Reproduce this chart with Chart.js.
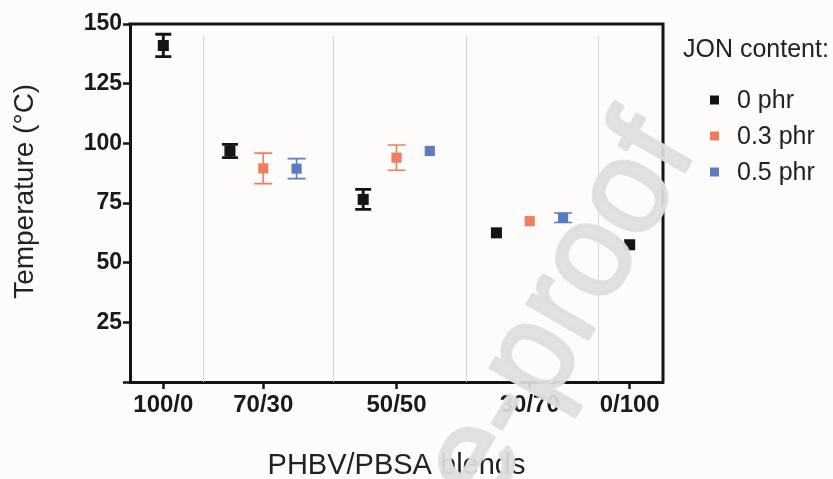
<!DOCTYPE html>
<html lang="en">
<head>
  <meta charset="UTF-8">
  <title>PHBV/PBSA blends</title>
  <script src="https://cdn.jsdelivr.net/npm/chart.js@4.4.1/dist/chart.umd.min.js"></script>
  <style>
    * { margin: 0; padding: 0; box-sizing: border-box; }
    body { background: #fdfcfa; }
    #wrap { width: 833px; height: 479px; position: relative; }
  </style>
</head>
<body>
  <div id="wrap"><canvas id="myChart"></canvas></div>

<script>
  // blends and where they sit on the x axis
  const categories = ['100/0', '70/30', '50/50', '30/70', '0/100'];
  const catPos = [1, 4, 8, 12, 15];
  const separators = [2.2, 6.1, 10.1, 14.05];

  const seriesNames = ['0 phr', '0.3 phr', '0.5 phr'];
  const seriesColors = ['#141414', '#ef7e5f', '#5a7cc3'];

  // temperature values (°C) and error (+/-)
  const phr0 = [141, 96.8, 76.5, 62.5, 57.5];
  const phr0Err = [4.7, 2.8, 4.2, 0, 0];
  const phr03 = [null, 89.5, 94, 67.4, null];
  const phr03Err = [null, 6.4, 5.3, 0, null];
  const phr05 = [null, 89.4, 96.8, 68.8, null];
  const phr05Err = [null, 4.2, 0, 2, null];

  const yTicks = [0, 25, 50, 75, 100, 125, 150];

  const allValues = [phr0, phr03, phr05];
  const allErrors = [phr0Err, phr03Err, phr05Err];

  // spread the series around the blend position (one step apart)
  function buildPoints(s) {
    const pts = [];
    for (let c = 0; c < categories.length; c++) {
      if (allValues[s][c] == null) continue;
      let present = [];
      for (let k = 0; k < allValues.length; k++) {
        if (allValues[k][c] != null) present.push(k);
      }
      const offset = present.indexOf(s) - (present.length - 1) / 2;
      pts.push({ x: catPos[c] + offset, y: allValues[s][c], err: allErrors[s][c] });
    }
    return pts;
  }

  const datasets = seriesNames.map(function (name, s) {
    return {
      label: name,
      data: buildPoints(s),
      pointStyle: 'rect',
      pointRadius: s == 0 ? 7.8 : 7.2,
      backgroundColor: seriesColors[s],
      borderColor: seriesColors[s],
      borderWidth: 0,
      showLine: false
    };
  });

  const font = "'Liberation Sans', Arial, sans-serif";

  const errorBars = {
    id: 'errorBars',
    beforeDatasetsDraw(chart) {
      const ctx = chart.ctx;
      const yS = chart.scales.y, xS = chart.scales.x;
      chart.data.datasets.forEach(function (ds, s) {
        ctx.save();
        ctx.strokeStyle = ds.borderColor;
        ctx.lineWidth = s == 0 ? 2.8 : 1.6;
        const half = s == 0 ? 8 : 9;
        ds.data.forEach(function (p) {
          if (!p.err) return;
          const x = xS.getPixelForValue(p.x);
          const top = yS.getPixelForValue(p.y + p.err);
          const bot = yS.getPixelForValue(p.y - p.err);
          ctx.beginPath();
          ctx.moveTo(x, top); ctx.lineTo(x, bot);
          ctx.moveTo(x - half, top); ctx.lineTo(x + half, top);
          ctx.moveTo(x - half, bot); ctx.lineTo(x + half, bot);
          ctx.stroke();
        });
        ctx.restore();
      });
    }
  };

  const frame = {
    id: 'frame',
    beforeDatasetsDraw(chart) {
      const ctx = chart.ctx, a = chart.chartArea;
      const xS = chart.scales.x, yS = chart.scales.y;
      ctx.save();
      // light separators between blends
      ctx.strokeStyle = '#d9d7d4';
      ctx.lineWidth = 1;
      separators.forEach(function (v) {
        const x = Math.round(xS.getPixelForValue(v)) + 0.5;
        ctx.beginPath();
        ctx.moveTo(x, yS.getPixelForValue(145));
        ctx.lineTo(x, a.bottom);
        ctx.stroke();
      });
      // top and right edge of the box
      ctx.strokeStyle = '#141414';
      ctx.lineWidth = 3;
      ctx.beginPath();
      ctx.moveTo(a.left - 1.5, a.top);
      ctx.lineTo(a.right, a.top);
      ctx.lineTo(a.right, a.bottom + 1.5);
      ctx.stroke();
      ctx.restore();
    },
    afterDraw(chart) {
      const ctx = chart.ctx;
      ctx.save();
      // legend
      ctx.fillStyle = '#222';
      ctx.font = '25px ' + font;
      ctx.textBaseline = 'middle';
      ctx.fillText('JON content:', 683, 50);
      chart.data.datasets.forEach(function (ds, i) {
        const y = 100 + i * 36;
        ctx.fillStyle = ds.backgroundColor;
        ctx.fillRect(710, y - 4.5, 9, 9);
        ctx.fillStyle = '#222';
        ctx.fillText(ds.label, 737, y + 1);
      });
      // watermark
      ctx.translate(488, 512);
      ctx.rotate(-60 * Math.PI / 180);
      ctx.fillStyle = 'rgba(222,222,222,0.92)';
      ctx.strokeStyle = 'rgba(222,222,222,0.92)';
      ctx.lineWidth = 4;
      ctx.lineJoin = 'round';
      ctx.font = '132px ' + font;
      ctx.textBaseline = 'alphabetic';
      ctx.fillText('e-proof', 0, 0);
      ctx.strokeText('e-proof', 0, 0);
      ctx.restore();
    }
  };

  new Chart('myChart', {
    type: 'scatter',
    data: { datasets: datasets },
    plugins: [errorBars, frame],
    options: {
      responsive: true,
      maintainAspectRatio: false,
      animation: false,
      layout: { padding: { top: 24, right: 170, left: 0, bottom: 0 } },
      plugins: {
        legend: { display: false },
        tooltip: { enabled: false }
      },
      scales: {
        x: {
          type: 'linear',
          min: 0,
          max: 16,
          afterBuildTicks: function (scale) {
            scale.ticks = catPos.map(v => ({ value: v }));
          },
          afterFit: function (scale) { scale.height = 97; },
          ticks: {
            autoSkip: false,
            maxRotation: 0,
            padding: 2,
            color: '#1a1a1a',
            font: { family: font, size: 24, weight: 'bold' },
            callback: function (v) { return categories[catPos.indexOf(v)]; }
          },
          grid: { drawOnChartArea: false, drawTicks: true, tickLength: 7, tickWidth: 2.5, tickColor: '#141414' },
          border: { display: true, width: 3, color: '#141414' },
          title: {
            display: true,
            text: 'PHBV/PBSA blends',
            color: '#222',
            font: { family: font, size: 29, lineHeight: 0.9 },
            padding: { top: 0, bottom: 0 }
          }
        },
        y: {
          min: 0,
          max: 150,
          afterBuildTicks: function (scale) {
            scale.ticks = yTicks.map(v => ({ value: v }));
          },
          afterFit: function (scale) { scale.width = 130; },
          ticks: {
            padding: 1,
            color: '#1a1a1a',
            font: { family: font, size: 23, weight: 'bold' },
            callback: function (v) { return v == 0 ? '' : v; }
          },
          grid: { drawOnChartArea: false, drawTicks: true, tickLength: 7, tickWidth: 2.5, tickColor: '#141414' },
          border: { display: true, width: 3, color: '#141414' },
          title: {
            display: true,
            text: '   Temperature (°C)',
            color: '#222',
            font: { family: font, size: 28 },
            padding: { top: 8, bottom: 0 }
          }
        }
      }
    }
  });
</script>
</body>
</html>
